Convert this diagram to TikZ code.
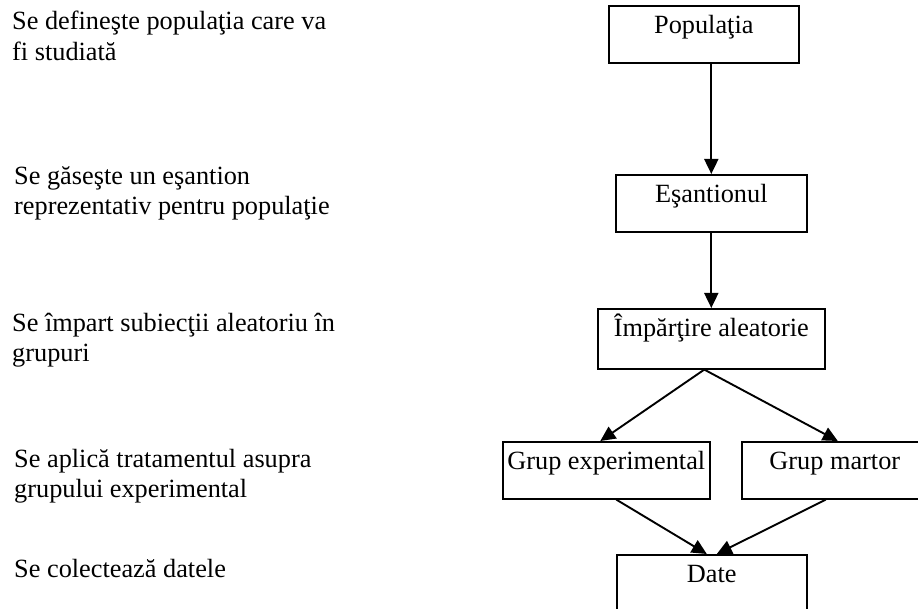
\documentclass[tikz,border=0pt]{standalone}
\usepackage{fontspec}
\setmainfont{Liberation Serif}
\usetikzlibrary{arrows.meta}
\begin{document}
\begin{tikzpicture}[x=1pt,y=-1pt,
  every node/.style={font=\fontsize{26.3pt}{30pt}\selectfont, inner sep=0pt},
  lbl/.style={anchor=base west},
  box/.style={draw, line width=1.6pt, anchor=north west, inner xsep=0pt, inner ysep=0pt, text height=27.5pt, text depth=29.5pt},
  arr/.style={line width=1.9pt, -{Triangle[length=15pt,width=14pt]}}]
\useasboundingbox (0,0) rectangle (918,609);
% left descriptions
\node[lbl] (t1a) at (12,30) {Se defineşte populaţia care va};
\node[lbl] (t1b) at (12,61) {fi studiată};
\node[lbl] (t2a) at (14,185) {Se găseşte un eşantion};
\node[lbl] (t2b) at (14,215) {reprezentativ pentru populaţie};
\node[lbl] (t3a) at (12,332) {Se împart subiecţii aleatoriu în};
\node[lbl] (t3b) at (12,362) {grupuri};
\node[lbl] (t4a) at (14,467) {Se aplică tratamentul asupra};
\node[lbl] (t4b) at (14,497) {grupului experimental};
\node[lbl] (t5) at (14,577) {Se colectează datele};
% boxes
\node[box, minimum width=190pt] (pop) at (608,5) {Populaţia};
\node[box, minimum width=191pt] (esa) at (615,174) {Eşantionul};
\node[box, minimum width=227pt, text depth=32.5pt] (imp) at (597,308) {Împărţire aleatorie};
\node[box, minimum width=207pt] (gexp) at (502,441) {Grup experimental};
\node[box, minimum width=186pt] (gmar) at (741,441) {Grup martor};
\node[box, minimum width=190pt, text depth=60pt] (date) at (616,554) {Date};
% connectors
\draw[arr] (pop.south -| esa.north) -- (esa.north);
\draw[arr] (esa.south) -- (imp.north);
\draw[arr] ([xshift=-7pt]imp.south) -- ([xshift=-6pt]gexp.north);
\draw[arr] ([xshift=-7pt]imp.south) -- ([xshift=3pt]gmar.north);
\draw[arr] ([xshift=10pt]gexp.south) -- ([xshift=-5pt]date.north);
\draw[arr] ([xshift=-9pt]gmar.south) -- ([xshift=5pt]date.north);
\end{tikzpicture}
\end{document}
